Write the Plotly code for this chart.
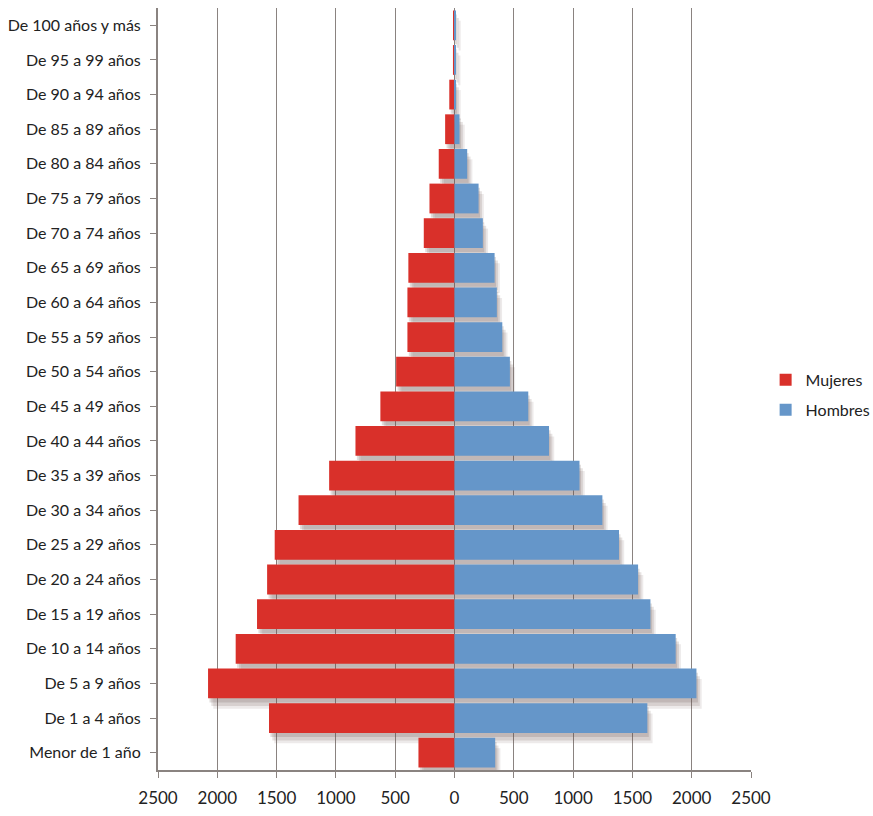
import plotly.graph_objects as go

# Age groups, bottom to top
grupos = [
    "Menor de 1 año", "De 1 a 4 años", "De 5 a 9 años", "De 10 a 14 años",
    "De 15 a 19 años", "De 20 a 24 años", "De 25 a 29 años", "De 30 a 34 años",
    "De 35 a 39 años", "De 40 a 44 años", "De 45 a 49 años", "De 50 a 54 años",
    "De 55 a 59 años", "De 60 a 64 años", "De 65 a 69 años", "De 70 a 74 años",
    "De 75 a 79 años", "De 80 a 84 años", "De 85 a 89 años", "De 90 a 94 años",
    "De 95 a 99 años", "De 100 años y más",
]
mujeres = [304, 1564, 2078, 1845, 1665, 1580, 1516, 1315, 1057, 835, 625,
           492, 397, 397, 389, 259, 211, 133, 79, 44, 13, 10]
hombres = [343, 1626, 2040, 1865, 1652, 1548, 1387, 1247, 1054, 797, 622,
           467, 403, 357, 338, 239, 203, 107, 42, 8, 6, 8]

tick_vals = [-2500, -2000, -1500, -1000, -500, 0, 500, 1000, 1500, 2000, 2500]
tick_text = [str(abs(v)) for v in tick_vals]

ROJO = "#d9302a"
AZUL = "#6596c9"
GRIS = "#8a8380"
FONT = "Lato, 'Open Sans', sans-serif"

n = len(grupos)
idx = list(range(n))
neg_m = [-v for v in mujeres]

fig = go.Figure()

# layered soft drop shadow under the bars, one overlaying axis pair per layer
shadow_layers = [(12, 0.12, 0.20), (28, 0.22, 0.17), (44, 0.30, 0.12)]
for k, (sx, sy, alpha) in enumerate(shadow_layers):
    ax = "" if k == 0 else str(k + 1)
    for vals in (neg_m, hombres):
        fig.add_trace(go.Bar(y=idx, x=vals, orientation="h",
                             marker_color=f"rgba(105,85,80,{alpha})",
                             marker_line_width=0, showlegend=False,
                             hoverinfo="skip", xaxis="x" + ax, yaxis="y" + ax))
    xa = dict(range=[-2500 - sx, 2500 - sx], tickvals=[], showgrid=False,
              zeroline=False, showline=False, fixedrange=True)
    ya = dict(range=[-0.5 + sy, n - 0.5 + sy], tickvals=[], showgrid=False,
              zeroline=False, showline=False, fixedrange=True)
    if k > 0:
        xa.update(overlaying="x", anchor="y" + ax)
        ya.update(overlaying="y", anchor="x" + ax)
    fig.update_layout({"xaxis" + ax: xa, "yaxis" + ax: ya})

# bars on the top overlaying axes
fig.add_trace(go.Bar(y=idx, x=neg_m, orientation="h", name="Mujeres",
                     marker_color=ROJO, marker_line_width=0, legendgroup="m",
                     xaxis="x4", yaxis="y4"))
fig.add_trace(go.Bar(y=idx, x=hombres, orientation="h", name="Hombres",
                     marker_color=AZUL, marker_line_width=0, legendgroup="h",
                     xaxis="x4", yaxis="y4"))

fig.update_layout(
    width=873, height=816,
    margin=dict(l=158, r=122, t=8, b=46, autoexpand=False),
    paper_bgcolor="white", plot_bgcolor="rgba(0,0,0,0)",
    barmode="overlay", bargap=0.14,
    font=dict(family=FONT, size=16, color="#222222"),
    xaxis4=dict(overlaying="x", range=[-2500, 2500], tickvals=tick_vals,
                ticktext=tick_text, showgrid=True, gridcolor=GRIS,
                gridwidth=1, zeroline=True, zerolinecolor=GRIS,
                zerolinewidth=1, showline=True, linecolor=GRIS,
                linewidth=2, ticks="outside", ticklen=6, tickcolor=GRIS,
                side="bottom", anchor="y4", automargin=False,
                ticklabelstandoff=6, fixedrange=True,
                tickfont=dict(size=17)),
    yaxis4=dict(overlaying="y", range=[-0.5, n - 0.5], tickvals=idx,
                ticktext=grupos, showgrid=False, zeroline=False,
                showline=True, linecolor=GRIS, linewidth=2,
                ticks="outside", ticklen=6, tickcolor=GRIS,
                anchor="x4", side="left", automargin=False,
                ticklabelstandoff=6, fixedrange=True),
    legend=dict(xref="container", yref="container", x=0.877, y=0.516,
                xanchor="left", yanchor="middle", traceorder="grouped",
                font=dict(size=16), bgcolor="rgba(0,0,0,0)",
                itemwidth=30, tracegroupgap=6),
)

fig.write_html("out.html")
